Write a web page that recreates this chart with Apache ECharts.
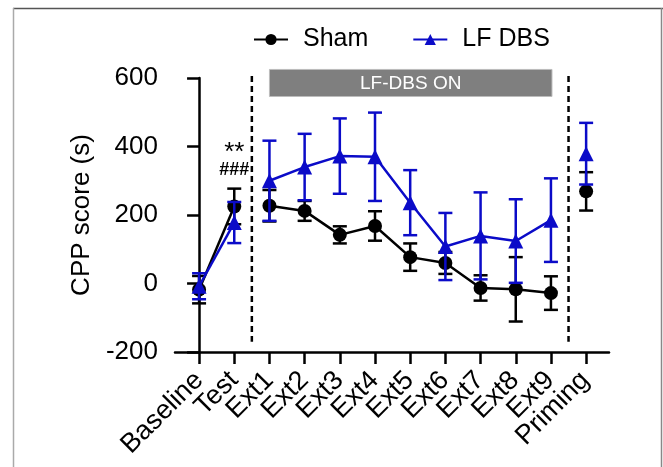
<!DOCTYPE html>
<html>
<head>
<meta charset="utf-8">
<title>CPP score</title>
<script src="https://cdn.jsdelivr.net/npm/echarts@6/dist/echarts.min.js"></script>
<style>
  html, body { margin: 0; padding: 0; background: #fff; }
  #chart { width: 663px; height: 467px; }
</style>
</head>
<body>
<div id="chart"></div>
<script>
// sessions
var categories = ['Baseline', 'Test', 'Ext1', 'Ext2', 'Ext3', 'Ext4', 'Ext5', 'Ext6', 'Ext7', 'Ext8', 'Ext9', 'Priming'];

// mean CPP score (s) and SEM
var shamMean = [-18, 225, 227, 212, 142, 168, 77, 60, -13, -17, -28, 269];
var shamErr  = [40, 52, 46, 29, 25, 43, 40, 32, 37, 94, 49, 56];
var lfMean   = [-8, 178, 300, 340, 372, 370, 236, 108, 139, 124, 185, 379];
var lfErr    = [38, 60, 117, 97, 110, 129, 95, 98, 127, 122, 122, 90];

// line segments (first index, last index)
var segments = [[0, 1], [2, 10], [11, 11]];

// phase separators and stimulation bar
var dividers = [1.5, 10.5];
var stimBar = [2, 10.03];
var stimLabel = 'LF-DBS ON';

// y axis ticks
var yTicks = [-200, 0, 200, 400, 600];

// significance marks above Test
var markPos = [[1, 396], [1, 330]];
var markText = ['**', '###'];

var FONT = "'Liberation Sans', Arial, sans-serif";
var BLACK = '#000000';
var BLUE = '#0b0bc8';

function seg(arr, from, to) {
    var out = [];
    for (var i = from; i <= to; i++) {
        out.push([i, arr[i]]);
    }
    return out;
}

function errData(mean, err) {
    return mean.map(function (m, i) { return [i, m - err[i], m + err[i]]; });
}

function renderErrorBar(params, api) {
    var x = api.value(0);
    var lo = api.coord([x, api.value(1)]);
    var hi = api.coord([x, api.value(2)]);
    var w = 7;
    var style = { stroke: api.visual('color'), lineWidth: 2.5 };
    return {
        type: 'group',
        children: [
            { type: 'line', shape: { x1: lo[0], y1: lo[1], x2: hi[0], y2: hi[1] }, style: style },
            { type: 'line', shape: { x1: lo[0] - w, y1: lo[1], x2: lo[0] + w, y2: lo[1] }, style: style },
            { type: 'line', shape: { x1: hi[0] - w, y1: hi[1], x2: hi[0] + w, y2: hi[1] }, style: style }
        ]
    };
}

var myChart = echarts.init(document.getElementById('chart'));

var series = [];

// lines first so the legend takes its icon from them
segments.forEach(function (s) {
    series.push({
        type: 'line',
        name: 'Sham',
        data: seg(shamMean, s[0], s[1]),
        symbol: 'circle',
        symbolSize: 14,
        showAllSymbol: true,
        itemStyle: { color: BLACK },
        lineStyle: { color: BLACK, width: 2.5 },
        z: 3
    });
});
segments.forEach(function (s) {
    series.push({
        type: 'line',
        name: 'LF DBS',
        data: seg(lfMean, s[0], s[1]),
        symbol: 'triangle',
        symbolSize: 15,
        showAllSymbol: true,
        itemStyle: { color: BLUE },
        lineStyle: { color: BLUE, width: 2.5 },
        z: 5
    });
});

// error bars
series.push({
    type: 'custom',
    renderItem: renderErrorBar,
    data: errData(shamMean, shamErr),
    encode: { x: 0, y: [1, 2] },
    itemStyle: { color: BLACK },
    clip: false,
    z: 2
});
series.push({
    type: 'custom',
    renderItem: renderErrorBar,
    data: errData(lfMean, lfErr),
    encode: { x: 0, y: [1, 2] },
    itemStyle: { color: BLUE },
    clip: false,
    z: 4
});

// dashed separators
series.push({
    type: 'custom',
    silent: true,
    clip: false,
    data: dividers.map(function (d) { return [d]; }),
    encode: { x: 0 },
    renderItem: function (params, api) {
        var top = api.coord([api.value(0), 606]);
        var bot = api.coord([api.value(0), -170]);
        return {
            type: 'line',
            shape: { x1: top[0], y1: top[1], x2: bot[0], y2: bot[1] },
            style: { stroke: BLACK, lineWidth: 2.5, lineDash: [6, 4] }
        };
    },
    z: 1
});

// stimulation bar
series.push({
    type: 'custom',
    silent: true,
    clip: false,
    data: [stimBar],
    encode: { x: [0, 1] },
    renderItem: function (params, api) {
        var p0 = api.coord([api.value(0), 625]);
        var p1 = api.coord([api.value(1), 546]);
        return {
            type: 'group',
            children: [{
                type: 'rect',
                shape: { x: p0[0], y: p0[1], width: p1[0] - p0[0], height: p1[1] - p0[1] },
                style: { fill: '#7f7f7f', stroke: '#bdbdbd', lineWidth: 1 }
            }, {
                type: 'text',
                x: (p0[0] + p1[0]) / 2,
                y: (p0[1] + p1[1]) / 2 + 1,
                style: {
                    text: stimLabel,
                    fill: '#ffffff',
                    font: '19px ' + FONT,
                    align: 'center',
                    verticalAlign: 'middle'
                }
            }]
        };
    },
    z: 1
});

// significance marks
series.push({
    type: 'custom',
    silent: true,
    clip: false,
    data: markPos,
    encode: { x: 0, y: 1 },
    renderItem: function (params, api) {
        var p = api.coord([api.value(0), api.value(1)]);
        var txt = markText[params.dataIndex];
        var isStar = txt.charAt(0) === '*';
        return {
            type: 'text',
            x: p[0],
            y: p[1] + (isStar ? 5 : 0),
            style: {
                text: txt,
                fill: BLACK,
                font: (isStar ? '26px ' : 'bold 18px ') + FONT,
                align: 'center',
                verticalAlign: 'middle'
            }
        };
    },
    z: 6
});

option = {
    animation: false,
    backgroundColor: '#ffffff',
    textStyle: { fontFamily: FONT },
    graphic: [
        { type: 'line', shape: { x1: 13, y1: 8.5, x2: 663, y2: 8.5 }, style: { stroke: '#555555', lineWidth: 1.5 } },
        { type: 'line', shape: { x1: 13.5, y1: 8, x2: 13.5, y2: 467 }, style: { stroke: '#aaaaaa', lineWidth: 1.5 } },
        { type: 'line', shape: { x1: 661.5, y1: 8, x2: 661.5, y2: 467 }, style: { stroke: '#888888', lineWidth: 1.5 } }
    ],
    legend: {
        data: ['Sham', 'LF DBS'],
        left: 248,
        top: 22,
        itemWidth: 34,
        itemHeight: 14,
        itemGap: 44,
        textStyle: { fontSize: 25, color: BLACK, fontFamily: FONT, padding: [0, 0, 0, 10] }
    },
    grid: [{
        left: 175,
        right: 54,
        top: 78,
        bottom: 115,
        containLabel: false,
        outerBoundsMode: 'none'
    }, {
        // label-only grid: category centres line up with the ticks of grid 0
        left: 181.5,
        right: 60.3,
        top: 78,
        bottom: 115,
        containLabel: false,
        outerBoundsMode: 'none'
    }],
    xAxis: [{
        type: 'value',
        gridIndex: 0,
        min: -0.684,
        max: 11.65,
        splitLine: { show: false },
        axisLine: { onZero: false, lineStyle: { color: BLACK, width: 2.5 } },
        axisTick: { show: true, length: 12, lineStyle: { color: BLACK, width: 2.5 }, customValues: categories.map(function (c, i) { return i; }) },
        axisLabel: { show: false }
    }, {
        type: 'category',
        gridIndex: 1,
        data: categories,
        boundaryGap: true,
        axisLine: { show: false, onZero: false },
        axisTick: { show: false },
        splitLine: { show: false },
        axisLabel: {
            interval: 0,
            rotate: 45,
            margin: 24,
            fontSize: 27,
            color: BLACK,
            fontFamily: FONT
        }
    }],
    yAxis: [{
        type: 'value',
        gridIndex: 0,
        min: -200,
        max: 600,
        name: 'CPP score (s)',
        nameLocation: 'middle',
        nameRotate: 90,
        nameGap: 76,
        nameTextStyle: { fontSize: 26, color: BLACK, fontFamily: FONT },
        splitLine: { show: false },
        axisLine: { show: true, lineStyle: { color: BLACK, width: 2.5 } },
        axisTick: { show: true, length: 12, lineStyle: { color: BLACK, width: 2.5 }, customValues: yTicks },
        axisLabel: {
            customValues: yTicks,
            margin: 17,
            fontSize: 26,
            color: BLACK,
            fontFamily: FONT
        }
    }, {
        type: 'value',
        gridIndex: 1,
        min: -200,
        max: 600,
        show: false
    }],
    series: series
};

myChart.setOption(option);
</script>
</body>
</html>
